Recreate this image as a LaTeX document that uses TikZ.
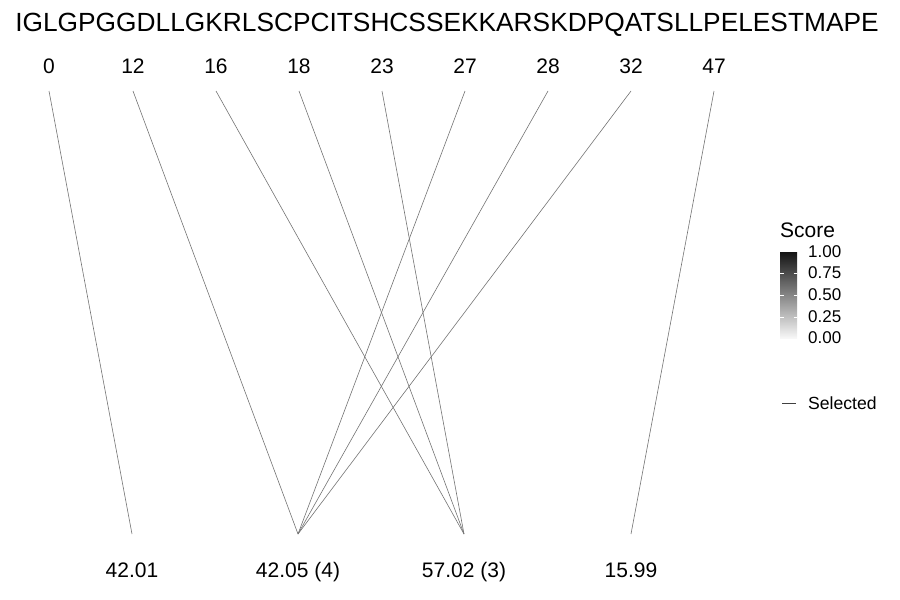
\documentclass[tikz,border=0pt]{standalone}
\usepackage{fontspec}
\setmainfont{Liberation Sans}
\usetikzlibrary{positioning, calc}

\begin{document}
\begin{tikzpicture}[x=1pt, y=-1pt,
		seqtext/.style={font=\fontsize{26.3}{30}\selectfont, inner sep=0pt, anchor=base},
		postext/.style={font=\fontsize{21}{25}\selectfont, inner sep=0pt, anchor=base},
		masstext/.style={font=\fontsize{21}{25}\selectfont, inner sep=0pt, anchor=base},
		legtext/.style={font=\fontsize{17}{20}\selectfont, inner sep=0pt},
		link/.style={draw=black!55, line width=0.6pt}]
		\useasboundingbox (0,0) rectangle (900,600);
		
		\node (seq) [seqtext] at (447,31) {IGLGPGGDLLGKRLSCPCITSHCSSEKKARSKDPQATSLLPELESTMAPE};
		
		% positions along the sequence
		\node (pos0) [postext] at (49,73) {0};
		\node (pos12) [postext] at (133,73) {12};
		\node (pos16) [postext] at (216,73) {16};
		\node (pos18) [postext] at (299,73) {18};
		\node (pos23) [postext] at (382,73) {23};
		\node (pos27) [postext] at (465,73) {27};
		\node (pos28) [postext] at (548,73) {28};
		\node (pos32) [postext] at (631,73) {32};
		\node (pos47) [postext] at (714,73) {47};
		
		\coordinate (top0) at (49,91);
		\coordinate (top12) at (133,91);
		\coordinate (top16) at (216,91);
		\coordinate (top18) at (299,91);
		\coordinate (top23) at (382,91);
		\coordinate (top27) at (465,91);
		\coordinate (top28) at (548,91);
		\coordinate (top32) at (631,91);
		\coordinate (top47) at (714,91);
		
		% mass shifts
		\node (mass1) [masstext] at (132,577) {42.01};
		\node (mass2) [masstext] at (298,577) {42.05 (4)};
		\node (mass3) [masstext] at (464,577) {57.02 (3)};
		\node (mass4) [masstext] at (631,577) {15.99};
		
		\coordinate (bot1) at (132,534);
		\coordinate (bot2) at (298,534);
		\coordinate (bot3) at (464,534);
		\coordinate (bot4) at (631,534);
		
		\draw [link] (top0) -- (bot1);
		\draw [link] (top12) -- (bot2);
		\draw [link] (top27) -- (bot2);
		\draw [link] (top28) -- (bot2);
		\draw [link] (top32) -- (bot2);
		\draw [link] (top16) -- (bot3);
		\draw [link] (top18) -- (bot3);
		\draw [link] (top23) -- (bot3);
		\draw [link] (top47) -- (bot4);
		
		% legend
		\node (score) [legtext, font=\fontsize{21}{24}\selectfont, anchor=base west] at (780,237) {Score};
		\shade [top color=black!92, bottom color=black!3] (780,252) rectangle (797,338);
		\draw [white, line width=0.5pt] (780,273) -- (783.5,273) (793.5,273) -- (797,273);
		\draw [white, line width=0.5pt] (780,295) -- (783.5,295) (793.5,295) -- (797,295);
		\draw [white, line width=0.5pt] (780,317) -- (783.5,317) (793.5,317) -- (797,317);
		\node (tick100) [legtext, anchor=west] at (808,252) {1.00};
		\node (tick075) [legtext, anchor=west] at (808,273) {0.75};
		\node (tick050) [legtext, anchor=west] at (808,295) {0.50};
		\node (tick025) [legtext, anchor=west] at (808,317) {0.25};
		\node (tick000) [legtext, anchor=west] at (808,338) {0.00};
		
		\coordinate (selA) at (782,403);
		\coordinate (selB) at (796,403);
		\draw [draw=black!75, line width=0.7pt] (selA) -- (selB);
		\node (selected) [legtext, font=\fontsize{17.6}{20}\selectfont, anchor=base west] at (808,409) {Selected};
		
	\end{tikzpicture}
\end{document}
